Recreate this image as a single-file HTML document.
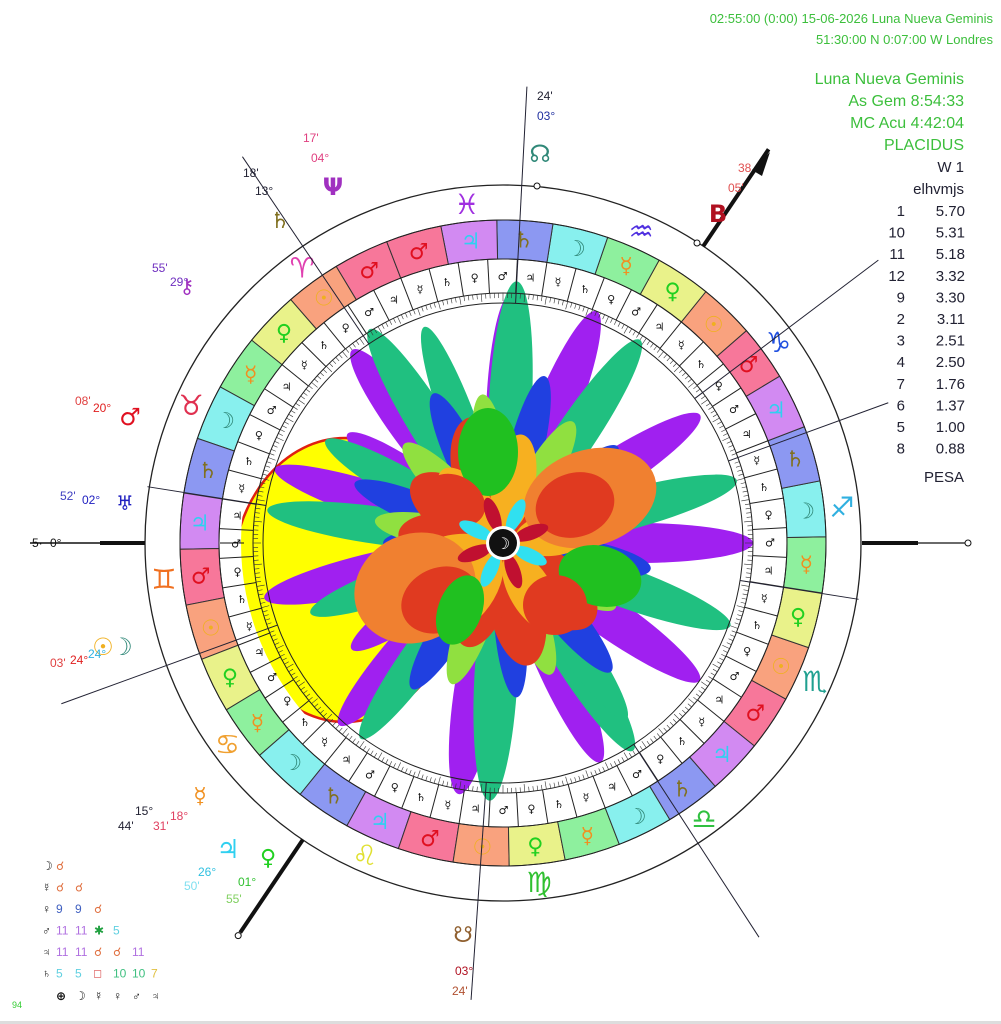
<!DOCTYPE html>
<html><head><meta charset="utf-8">
<style>
html,body{margin:0;padding:0;background:#fff;width:1001px;height:1024px;overflow:hidden}
svg{display:block}
text{font-family:"Liberation Sans","DejaVu Sans",sans-serif}
.g{font-family:"DejaVu Sans","Liberation Sans",sans-serif}
</style></head>
<body>
<svg id="s" width="1001" height="1024" viewBox="0 0 1001 1024" xmlns="http://www.w3.org/2000/svg">
<rect width="1001" height="1024" fill="#fff"/>
<g id="chart"></g>
<g fill="#3cbf3c" font-size="13" text-anchor="end">
<text x="993" y="23">02:55:00 (0:00) 15-06-2026  Luna Nueva Geminis</text>
<text x="993" y="44">51:30:00 N  0:07:00 W  Londres</text>
</g>
<g fill="#3cbf3c" font-size="16" text-anchor="end">
<text x="964" y="84">Luna Nueva Geminis</text>
<text x="964" y="106">As Gem   8:54:33</text>
<text x="964" y="128">MC Acu   4:42:04</text>
<text x="964" y="150">PLACIDUS</text>
</g>
<g fill="#223" font-size="15" text-anchor="end">
<text x="964" y="172">W 1</text>
<text x="964" y="194">elhvmjs</text>
<text x="964" y="482">PESA</text>
</g>
<g fill="#223" font-size="15" font-family="Liberation Mono,monospace" id="tbl"></g>
<g font-size="12" class="g" id="asp"></g>
<text x="12" y="1008" font-size="9" fill="#3c3">94</text>
<rect x="0" y="1021" width="1001" height="3" fill="#ddd"/>
</svg>
<script>
const NS="http://www.w3.org/2000/svg";
const cx=503,cy=543;
const C=document.getElementById('chart');
function el(t,a,p){const e=document.createElementNS(NS,t);for(const k in a)e.setAttribute(k,a[k]);(p||C).appendChild(e);return e;}
function tx(x,y,s,a,p){const e=el('text',Object.assign({x:x,y:y},a),p);e.textContent=s;return e;}
function pa(r,th){th=th*Math.PI/180;return [cx+r*Math.cos(th),cy-r*Math.sin(th)];}
function la(lam){return 180+lam-68.9;}
function sector(r1,r2,a1,a2){const p1=pa(r2,a1),p2=pa(r2,a2),p3=pa(r1,a2),p4=pa(r1,a1);
return `M${p1} A${r2},${r2} 0 0 0 ${p2} L${p3} A${r1},${r1} 0 0 1 ${p4}Z`;}
const defs=el('defs',{});
const cp=el('clipPath',{id:'cin'},defs);el('circle',{cx:cx,cy:cy,r:262},cp);
el('ellipse',{cx:345,cy:580,rx:113,ry:142,fill:'#ffff00',stroke:'#e02010','stroke-width':2.5,'clip-path':'url(#cin)'});
const P=[];
function add(col,list){list.forEach(l=>P.push([col].concat(l)));}
add('#a020f0',[[88,250,30],[128,245,30],[162,240,26],[193,245,28],[228,245,28],[260,255,32],[294,240,28],[325,240,28],[0,250,28],[33,235,28],[68,250,30],[145,190,24],[215,185,24]]);
add('#20c080',[[87,262,30],[122,252,28],[56,245,28],[15,242,28],[-20,242,28],[-58,245,28],[267,258,30],[234,242,26],[172,238,26],[150,205,24],[200,205,24],[110,230,24],[305,215,24]]);
add('#2040e0',[[115,165,24],[76,172,24],[158,160,22],[238,172,24],[310,168,24],[350,150,24],[40,150,22],[200,140,22],[275,155,22],[180,120,20]]);
add('#90e040',[[98,150,24],[135,140,24],[60,140,24],[250,150,24],[290,140,24],[170,130,22],[20,140,22],[215,120,22],[330,130,22]]);
add('#e03a20',[[105,130,44],[145,110,38],[212,125,44],[282,125,38],[318,120,44],[28,125,44],[250,110,34],[175,105,34]]);
add('#f7b020',[[80,110,30],[195,100,30],[300,100,30],[10,95,30],[240,95,28],[130,95,28]]);
P.forEach(p=>{const [col,a,L,W]=p;const d=(L+12)/2,rx=(L-12)/2;const c=pa(d,a);
el('ellipse',{cx:c[0],cy:c[1],rx:rx,ry:W*0.72,fill:col,transform:`rotate(${-a} ${c[0]} ${c[1]})`});});
el('ellipse',{cx:590,cy:498,rx:68,ry:48,fill:'#f08030',transform:'rotate(-18 590 498)'});
el('ellipse',{cx:575,cy:505,rx:40,ry:32,fill:'#e03a20',transform:'rotate(-18 575 505)'});
el('ellipse',{cx:415,cy:588,rx:62,ry:54,fill:'#f08030',transform:'rotate(-25 415 588)'});
el('ellipse',{cx:440,cy:600,rx:40,ry:32,fill:'#e03a20',transform:'rotate(-25 440 600)'});
el('ellipse',{cx:488,cy:452,rx:30,ry:44,fill:'#20c020'});
el('ellipse',{cx:600,cy:576,rx:42,ry:30,fill:'#20c020',transform:'rotate(15 600 576)'});
el('ellipse',{cx:555,cy:605,rx:32,ry:30,fill:'#e03a20'});
el('ellipse',{cx:455,cy:500,rx:32,ry:24,fill:'#e03a20',transform:'rotate(30 455 500)'});
el('ellipse',{cx:460,cy:610,rx:22,ry:36,fill:'#20c020',transform:'rotate(20 460 610)'});
for(let i=0;i<8;i++){const a=i*45+20,c=pa(30,a);el('ellipse',{cx:c[0],cy:c[1],rx:18,ry:7,fill:i%2?'#30e0f0':'#c01030',transform:`rotate(${-a} ${c[0]} ${c[1]})`});}
el('circle',{cx:cx,cy:cy,r:17,fill:'#fff'});
el('circle',{cx:cx,cy:cy,r:14,fill:'#111'});
tx(cx,cy+6,'☽',{'text-anchor':'middle','font-size':16,fill:'#fff',class:'g'});
const PL=['♂','☉','♀','☿','☽','♄','♃'];
const BG={'♂':'#f7779a','☉':'#f9a27e','♀':'#e9f28a','☿':'#8ef09e','☽':'#88f0ee','♄':'#8c98f2','♃':'#d28af2'};
const FG={'♂':'#e01020','☉':'#f0b020','♀':'#20d020','☿':'#f09020','☽':'#308878','♄':'#807020','♃':'#30d0f0'};
el('circle',{cx:cx,cy:cy,r:358,fill:'none',stroke:'#222','stroke-width':1.3});
for(let i=0;i<36;i++){const p=PL[i%7];const a1=la(i*10),a2=la(i*10+10);
el('path',{d:sector(284,323,a1,a2),fill:BG[p],stroke:'#333','stroke-width':1});
const c=pa(304,la(i*10+5));tx(c[0],c[1]+8,p,{'text-anchor':'middle','font-size':22,fill:FG[p],class:'g','font-weight':'bold'});}
el('circle',{cx:cx,cy:cy,r:323,fill:'none',stroke:'#222'});
el('circle',{cx:cx,cy:cy,r:284,fill:'none',stroke:'#222'});
const TP=['♃','♀','☿','♂','♄'];
for(let i=0;i<60;i++){const a1=la(i*6);const q=pa(284,a1),q2=pa(250,a1);
el('line',{x1:q[0],y1:q[1],x2:q2[0],y2:q2[1],stroke:'#222','stroke-width':1});
const c=pa(267,la(i*6+3));tx(c[0],c[1]+4,TP[(i*3)%5],{'text-anchor':'middle','font-size':11,fill:'#111',class:'g','font-weight':'bold'});}
el('circle',{cx:cx,cy:cy,r:250,fill:'none',stroke:'#222'});
el('circle',{cx:cx,cy:cy,r:240,fill:'none',stroke:'#222'});
for(let i=0;i<360;i++){const q=pa(250,i),q2=pa(i%5?245:242,i);el('line',{x1:q[0],y1:q[1],x2:q2[0],y2:q2[1],stroke:'#333','stroke-width':0.6});}
const SG=['♈','♉','♊','♋','♌','♍','♎','♏','♐','♑','♒','♓'];
const SC=['#e040b0','#e03050','#f07020','#f0a030','#e0e030','#30c030','#30c040','#20a090','#30b0e0','#2050e0','#5030e0','#a030e0'];
for(let i=0;i<12;i++){const c=pa(341,la(i*30+15));tx(c[0],c[1]+10,SG[i],{'text-anchor':'middle','font-size':28,fill:SC[i],class:'g'});}
[[171,360],[200,470],[266,458],[303,470],[351,360],[20,410],[37,470],[87,457],[124,466]].forEach(h=>{const q=pa(240,h[0]),q2=pa(h[1],h[0]);
el('line',{x1:q[0],y1:q[1],x2:q2[0],y2:q2[1],stroke:'#223','stroke-width':1});});
el('line',{x1:30,y1:cy,x2:145,y2:cy,stroke:'#111','stroke-width':1.5});
el('line',{x1:100,y1:cy,x2:145,y2:cy,stroke:'#111','stroke-width':4});
el('line',{x1:862,y1:cy,x2:967,y2:cy,stroke:'#111','stroke-width':1.3});
el('line',{x1:862,y1:cy,x2:918,y2:cy,stroke:'#111','stroke-width':4});
el('circle',{cx:968,cy:cy,r:3,fill:'#fff',stroke:'#111'});
el('line',{x1:244,y1:cy,x2:220,y2:cy,stroke:'#111','stroke-width':1});
let m1=pa(358,56),m2=pa(475,56);el('line',{x1:m1[0],y1:m1[1],x2:m2[0],y2:m2[1],stroke:'#111','stroke-width':4});
el('path',{d:'M770,152 L752,170 L762,176Z',fill:'#111'});
let i1=pa(358,236),i2=pa(470,236);el('line',{x1:i1[0],y1:i1[1],x2:i2[0],y2:i2[1],stroke:'#111','stroke-width':4});
el('circle',{cx:i2[0]-2,cy:i2[1]+3,r:3,fill:'#fff',stroke:'#111'});
el('circle',{cx:537,cy:186,r:3,fill:'#fff',stroke:'#111'});
el('circle',{cx:697,cy:243,r:3,fill:'#fff',stroke:'#111'});
const G=[['Ψ',333,195,'#a030c0',24],['♄',280,228,'#807020',22],['⚷',187,293,'#a030c0',20],['♂',130,425,'#e01020',24],['♅',125,510,'#2020c0',20],['☉',103,655,'#f0b020',24],['☽',122,655,'#308878',24],['☿',200,803,'#f09020',22],['♃',228,858,'#30d0f0',26],['♀',268,865,'#20d020',22],['☊',540,162,'#308878',24],['☋',463,942,'#906030',22],['B',718,222,'#b01020',24]];
G.forEach(g=>tx(g[1],g[2],g[0],{'text-anchor':'middle','font-size':g[4],fill:g[3],class:'g','font-weight':'bold'}));
const L=[['17\'',303,142,'#e04080'],['04°',311,162,'#e04080'],['18\'',243,177,'#223'],['13°',255,195,'#223'],['55\'',152,272,'#7030c0'],['29°',170,286,'#7030c0'],['08\'',75,405,'#e04040'],['20°',93,412,'#e02020'],['52\'',60,500,'#4040c0'],['02°',82,504,'#2020c0'],['03\'',50,667,'#e04040'],['24°',70,664,'#e02020'],['24°',88,658,'#30b0e0'],['15°',135,815,'#223'],['44\'',118,830,'#223'],['18°',170,820,'#e04060'],['31\'',153,830,'#e04060'],['26°',198,876,'#30c0e0'],['50\'',184,890,'#80e0f0'],['01°',238,886,'#30c030'],['55\'',226,903,'#80d060'],['24\'',537,100,'#223'],['03°',537,120,'#2030a0'],['03°',455,975,'#b01020'],['24\'',452,995,'#b05030'],['38',738,172,'#e05050'],['05\'',728,192,'#e05050'],['5·',32,547,'#111'],['0°',50,547,'#111']];
L.forEach(l=>tx(l[1],l[2],l[0],{'font-size':12,fill:l[3]}));
const T=document.getElementById('tbl');
[['1','5.70'],['10','5.31'],['11','5.18'],['12','3.32'],['9','3.30'],['2','3.11'],['3','2.51'],['4','2.50'],['7','1.76'],['6','1.37'],['5','1.00'],['8','0.88']].forEach((r,i)=>{
const y=216+i*21.6;tx(905,y,r[0],{'text-anchor':'end'},T);tx(965,y,r[1],{'text-anchor':'end'},T);});
const A=document.getElementById('asp');
const rows=[['☽',[['☌','#e07040']]],['☿',[['☌','#e07040'],['☌','#e07040']]],['♀',[['9','#4060c0'],['9','#4060c0'],['☌','#e07040']]],['♂',[['11','#b070e0'],['11','#b070e0'],['✱','#20a040'],['5','#60d0e0']]],['♃',[['11','#b070e0'],['11','#b070e0'],['☌','#e07040'],['☌','#e07040'],['11','#b070e0']]],['♄',[['5','#60d0e0'],['5','#60d0e0'],['□','#d02020'],['10','#40c080'],['10','#40c080'],['7','#e0c040']]]];
rows.forEach((r,i)=>{const y=870+i*21.5;tx(42,y,r[0],{fill:'#111','font-weight':'bold'},A);r[1].forEach((c,j)=>tx(56+j*19,y,c[0],{fill:c[1]},A));});
['⊕','☽','☿','♀','♂','♃'].forEach((s,j)=>tx(56+j*19,1000,s,{fill:'#111','font-weight':'bold'},A));
</script>
</body></html>
